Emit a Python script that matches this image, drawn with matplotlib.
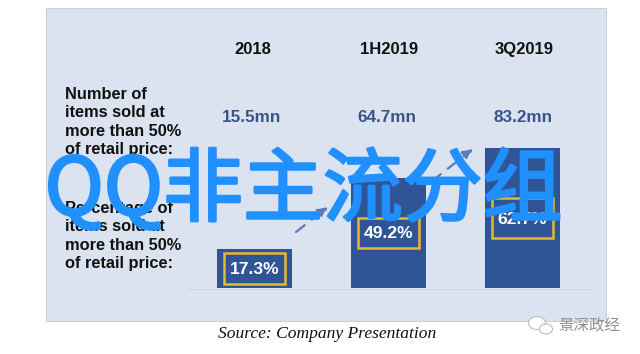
import matplotlib
matplotlib.use("Agg")
import matplotlib.pyplot as plt
import matplotlib.patheffects as pe
from matplotlib.patches import Rectangle, FancyArrowPatch, Ellipse

periods = ["2018", "1H2019", "3Q2019"]
items_sold = ["15.5mn", "64.7mn", "83.2mn"]
pct_sold = [17.3, 49.2, 62.7]
row_one = "Number of\nitems sold at\nmore than 50%\nof retail price:"
row_two = "Percentage of\nitems sold at\nmore than 50%\nof retail price:"
source = "Source: Company Presentation"
overlay = "QQ非主流分组"
wechat = "景深政经"

BLUE = "#2f5597"
PANEL = "#dbe3f0"
GOLD = "#e8b92f"
CJK = ["Noto Sans CJK SC", "DejaVu Sans"]
SANS = "Liberation Sans"

W, H = 640, 354
fig = plt.figure(figsize=(W / 100, H / 100), dpi=100)

# everything sits in pixel coords so it lines up with the reference
ax = fig.add_axes([0, 0, 1, 1])
ax.set_xlim(0, W)
ax.set_ylim(H, 0)
ax.axis("off")

ax.add_patch(Rectangle((46, 8), 560, 313, fc=PANEL, ec="#c9d0dc", lw=0.8, zorder=1))
ax.plot([187, 592], [288.5, 288.5], color="#cdd4e2", lw=0.8, zorder=2)

px_per_pct = 2.23
base = 288
centers = [254.5, 388.5, 522.5]
period_x = [253, 389, 524]
value_x = [251.5, 386.5, 523.5]
# the gold boxes are not evenly placed in the bars: (bottom gap above base, height)
box_spec = [(4, 31), (40, 30), (50, 40)]
label_y = [269, 234, 219]

for i, pct in enumerate(pct_sold):
    cx = centers[i]
    ax.text(period_x[i], 49.5, periods[i], ha="center", va="center", fontsize=12,
            fontweight="bold", family=SANS, color="#111111", zorder=3)
    ax.text(value_x[i], 118, items_sold[i], ha="center", va="center", fontsize=12.3,
            fontweight="bold", family=SANS, color="#3a5488", zorder=3)
    ax.bar(cx, -pct * px_per_pct, bottom=base, width=75, color=BLUE, zorder=3)
    gap, bh = box_spec[i]
    ax.add_patch(Rectangle((cx - 30.5, base - gap - bh), 61, bh, fc=BLUE, ec=GOLD, lw=1.8, zorder=4))
    ax.text(cx, label_y[i], f"{pct}%", ha="center", va="center", fontsize=12.6,
            fontweight="bold", family=SANS, color="white", zorder=5)

ax.text(65, 122, row_one, ha="left", va="center", fontsize=11.8, fontweight="bold",
        family=SANS, color="#111111", linespacing=1.27, zorder=3)
ax.text(65, 236, row_two, ha="left", va="center", fontsize=11.8, fontweight="bold",
        family=SANS, color="#111111", linespacing=1.27, zorder=3)

# two dashed trend arrows, mostly hidden by the big text
ax.add_patch(FancyArrowPatch((296, 232), (328, 207), arrowstyle="-|>", mutation_scale=15,
                             ls=(0, (5, 4)), lw=1.6, color="#5b7cb8", shrinkA=0, shrinkB=0, zorder=3))
ax.add_patch(FancyArrowPatch((432, 181), (473, 149), arrowstyle="-|>", mutation_scale=15,
                             ls=(0, (5, 4)), lw=1.6, color="#5b7cb8", shrinkA=0, shrinkB=0, zorder=3))

ax.text(327.5, 333.5, source, ha="center", va="center", fontsize=12.6, style="italic",
        family="Liberation Serif", color="#111111")

# regular weight is a bit thin and bold too heavy, so thicken it with a stroke
big = ax.text(303.5, 191.5, overlay, ha="center", va="center", fontsize=57.5,
              family=CJK, color="#2090ff", zorder=10)
big.set_path_effects([pe.withStroke(linewidth=1.9, foreground="#2090ff")])

# wechat mark, bottom right
ax.add_patch(Ellipse((537, 323), 17, 13, fc="white", ec="#bdbdbd", lw=0.8, zorder=6))
ax.add_patch(Ellipse((546, 329), 13, 10, fc="white", ec="#bdbdbd", lw=0.8, zorder=7))
ax.text(558, 326, wechat, ha="left", va="center", fontsize=11.2, family=CJK,
        color="#8f8f8f", zorder=6)

fig.savefig("out.png", dpi=100, facecolor="white")
